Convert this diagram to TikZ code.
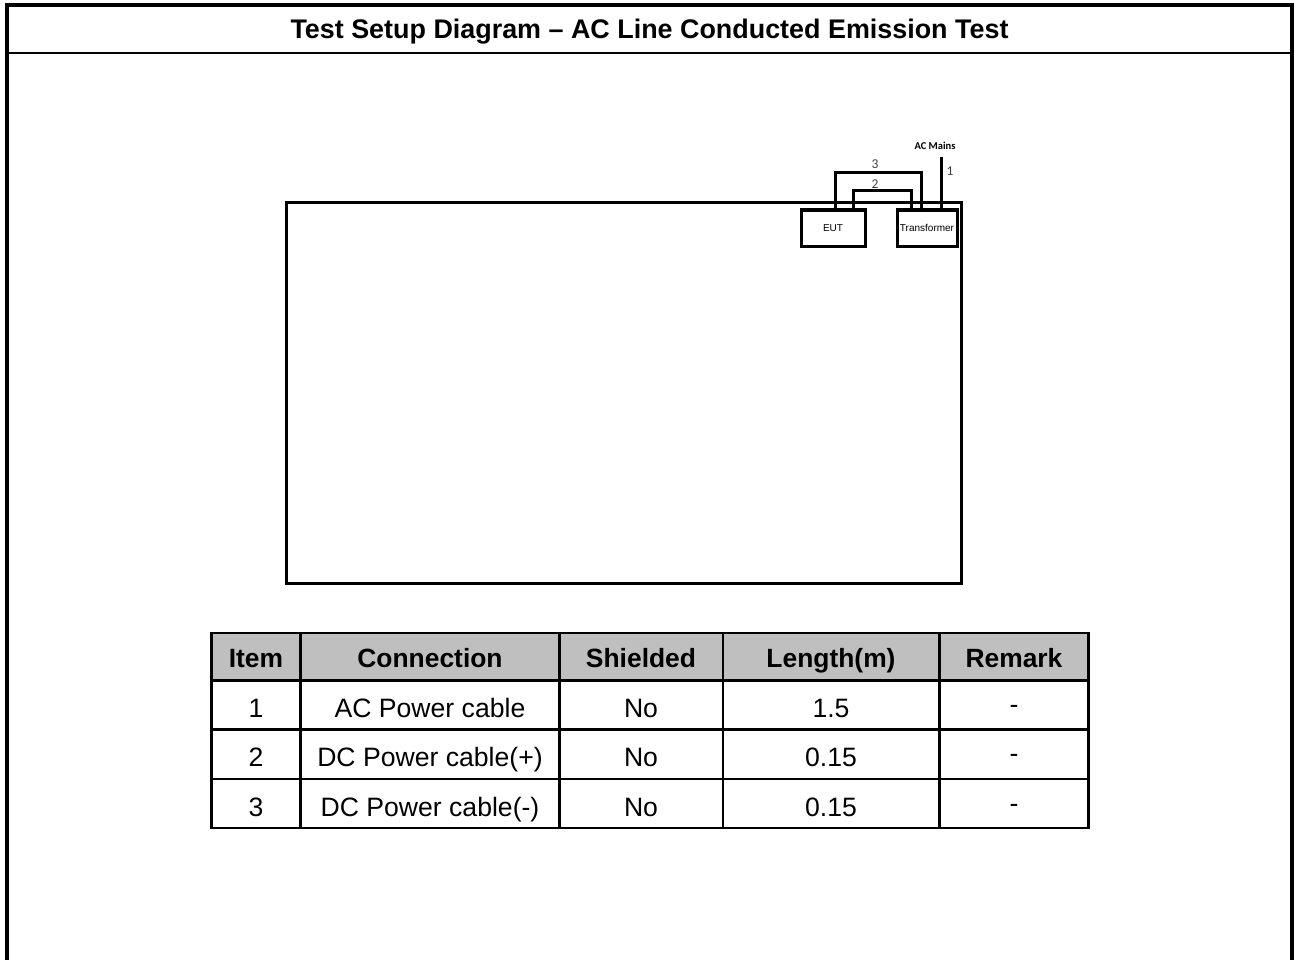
\documentclass[tikz,border=0pt]{standalone}
\usepackage{fontspec}
\setmainfont{Liberation Sans}
\newfontfamily\calibri{Carlito}
\begin{document}
\begin{tikzpicture}[x=1pt,y=-1pt,
  frameline/.style={line width=4pt},
  sepline/.style={line width=2.5pt},
  cable/.style={line width=3pt},
  unit/.style={draw,line width=3pt,inner sep=0pt,font=\fontsize{10}{12}\selectfont},
  tline/.style={line width=2.8pt},
  cell/.style={inner sep=0pt,anchor=base,font=\fontsize{26.6}{30}\selectfont},
  hcell/.style={inner sep=0pt,anchor=base,font=\fontsize{26.4}{30}\selectfont\bfseries},
  lbl/.style={inner sep=0pt,text=black!75,font=\fontsize{13.5}{15}\calibri},
]
\useasboundingbox (0,0) rectangle (1295,960);
% outer frame
\draw[frameline] (7,962) -- (7,5) -- (1291.5,5) -- (1291.5,962);
\draw[sepline] (7,53) -- (1291.5,53);
\node[inner sep=0pt,anchor=base,font=\fontsize{26.9}{30}\selectfont\bfseries] (title) at (649.5,38.5) {Test Setup Diagram -- AC Line Conducted Emission Test};
% table / ground plane
\node[draw,line width=3pt,minimum width=675pt,minimum height=380pt,inner sep=0pt] (plane) at (623.5,393) {};
% units
\node[unit,minimum width=64pt,minimum height=36pt] (eut) at (833,228) {EUT};
\node[unit,minimum width=60pt,minimum height=36pt] (tr) at (927,228) {Transformer};
% cables
\coordinate (c3l) at (835,173);
\coordinate (c3r) at (921,173);
\coordinate (c2l) at (853,191);
\coordinate (c2r) at (911,191);
\coordinate (c1t) at (941,157);
\draw[cable] (eut.north -| c3l) -- (c3l) -- (c3r) -- (tr.north -| c3r);
\draw[cable] (eut.north -| c2l) -- (c2l) -- (c2r) -- (tr.north -| c2r);
\draw[cable] (c1t) -- (tr.north -| c1t);
\node[lbl] (l3) at (875,164) {3};
\node[lbl] (l2) at (875,184) {2};
\node[lbl] (l1) at (950,171) {1};
\node[inner sep=0pt,font=\fontsize{10.5}{12}\calibri\bfseries] (acm) at (935,146) {AC Mains};
% table
\fill[black!25] (211.5,633) rectangle (1088.5,680.5);
\draw[tline] (211.5,633) rectangle (1088.5,828);
\draw[tline] (211.5,680.5) -- (1088.5,680.5);
\draw[tline] (211.5,729.5) -- (1088.5,729.5);
\draw[tline] (211.5,779) -- (1088.5,779);
\foreach \x in {300.5,559.5,723,939.5} \draw[tline] (\x,633) -- (\x,828);
\node[hcell] (h1) at (256,667.5) {Item};
\node[hcell] (h2) at (430,667.5) {Connection};
\node[hcell] (h3) at (641,667.5) {Shielded};
\node[hcell] (h4) at (831,667.5) {Length(m)};
\node[hcell] (h5) at (1014,667.5) {Remark};
\node[cell] (r11) at (256,717) {1};
\node[cell] (r12) at (430,717) {AC Power cable};
\node[cell] (r13) at (641,717) {No};
\node[cell] (r14) at (831,717) {1.5};
\node[cell] (r15) at (1014,713) {-};
\node[cell] (r21) at (256,766.5) {2};
\node[cell] (r22) at (430,766.5) {DC Power cable(+)};
\node[cell] (r23) at (641,766.5) {No};
\node[cell] (r24) at (831,766.5) {0.15};
\node[cell] (r25) at (1014,762.5) {-};
\node[cell] (r31) at (256,816) {3};
\node[cell] (r32) at (430,816) {DC Power cable(-)};
\node[cell] (r33) at (641,816) {No};
\node[cell] (r34) at (831,816) {0.15};
\node[cell] (r35) at (1014,812) {-};
\end{tikzpicture}
\end{document}
